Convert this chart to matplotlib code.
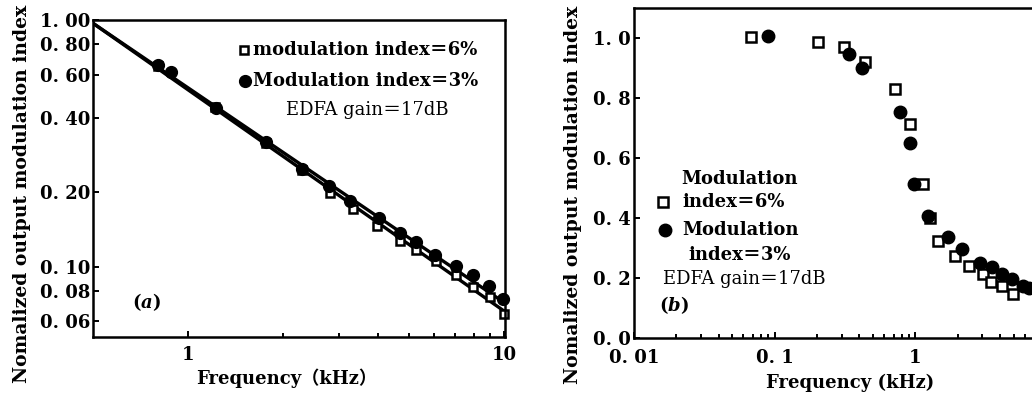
import matplotlib
matplotlib.use('Agg')
import matplotlib.pyplot as plt
import matplotlib.ticker as mticker
import numpy as np

# Panel (a): log-log, modulation index 6% (squares) and 3% (circles)
freqA_6 = [0.80, 1.22, 1.76, 2.30, 2.82, 3.33, 3.97, 4.68, 5.27, 6.10, 7.05, 7.99, 9.02, 10.0]
indexA_6 = [0.650, 0.445, 0.318, 0.246, 0.198, 0.171, 0.146, 0.127, 0.117, 0.105, 0.0925, 0.083, 0.0755, 0.064]
freqA_3 = [0.80, 0.88, 1.225, 1.76, 2.30, 2.78, 3.26, 4.02, 4.68, 5.25, 6.03, 7.01, 7.94, 8.97, 9.93]
indexA_3 = [0.657, 0.614, 0.439, 0.321, 0.250, 0.212, 0.185, 0.157, 0.137, 0.126, 0.111, 0.1007, 0.0925, 0.0835, 0.0738]
# fitted lines (end points)
fitA_freq = [0.5, 10.0]
fitA_6 = [0.97, 0.066]
fitA_3 = [0.97, 0.0715]

# Panel (b): semilog-x
freqB_6 = [0.068, 0.203, 0.31, 0.442, 0.721, 0.912, 1.13, 1.28, 1.46, 1.92, 2.39, 3.05, 3.44, 4.12, 4.93]
indexB_6 = [1.004, 0.986, 0.969, 0.919, 0.830, 0.714, 0.512, 0.400, 0.323, 0.273, 0.240, 0.213, 0.187, 0.172, 0.146]
freqB_3 = [0.090, 0.336, 0.419, 0.783, 0.912, 0.973, 1.24, 1.72, 2.14, 2.89, 3.50, 4.12, 4.85, 5.86, 6.47]
indexB_3 = [1.008, 0.947, 0.899, 0.752, 0.650, 0.512, 0.406, 0.337, 0.296, 0.251, 0.235, 0.213, 0.196, 0.174, 0.168]

yticksA = [0.06, 0.08, 0.10, 0.20, 0.40, 0.60, 0.80, 1.00]
ytickA_labels = ['0. 06', '0. 08', '0. 10', '0. 20', '0. 40', '0. 60', '0. 80', '1. 00']
yticksB = [0.0, 0.2, 0.4, 0.6, 0.8, 1.0]
ytickB_labels = ['0. 0', '0. 2', '0. 4', '0. 6', '0. 8', '1. 0']
xticksB = [0.01, 0.1, 1]
xtickB_labels = ['0. 01', '0. 1', '1']

plt.rcParams['font.family'] = ['DejaVu Serif', 'Noto Sans CJK SC']
plt.rcParams['font.weight'] = 'bold'
plt.rcParams['axes.labelweight'] = 'bold'
plt.rcParams['mathtext.fontset'] = 'custom'
plt.rcParams['mathtext.it'] = 'DejaVu Serif:italic:bold'
plt.rcParams['mathtext.rm'] = 'DejaVu Serif:bold'

fig = plt.figure(figsize=(10.32, 3.99), dpi=100)
axA = fig.add_axes([0.0901, 0.1561, 0.3992, 0.7938])
axB = fig.add_axes([0.6143, 0.1529, 0.4090, 0.8271])

for ax in (axA, axB):
    for s in ax.spines.values():
        s.set_linewidth(1.8)
    ax.tick_params(which='both', direction='in', width=1.4, labelsize=13)
    ax.tick_params(which='major', length=4)
    ax.tick_params(which='minor', length=3)

# ---- panel (a)
axA.set_xscale('log')
axA.set_yscale('log')
axA.plot(fitA_freq, fitA_6, color='black', lw=2.4)
axA.plot(fitA_freq, fitA_3, color='black', lw=2.4)
axA.plot(freqA_6, indexA_6, ls='none', marker='s', ms=6, mfc='white', mec='black', mew=1.8, clip_on=False)
axA.plot(freqA_3, indexA_3, ls='none', marker='o', ms=8.5, color='black', clip_on=False)
axA.set_xlim(0.5, 10.05)
axA.set_ylim(0.052, 1.0)
axA.yaxis.set_major_locator(mticker.FixedLocator(yticksA))
axA.yaxis.set_minor_locator(mticker.NullLocator())
axA.set_yticklabels(ytickA_labels)
axA.xaxis.set_major_locator(mticker.FixedLocator([1, 10]))
axA.xaxis.set_minor_locator(mticker.FixedLocator([2, 3, 4, 5, 6, 7, 8, 9]))
axA.xaxis.set_minor_formatter(mticker.NullFormatter())
axA.set_xticklabels(['1', '10'])
axA.tick_params(axis='x', pad=7)
axA.tick_params(axis='y', pad=2)
axA.set_xlabel('Frequency（kHz）', fontsize=13, va='center')
axA.xaxis.set_label_coords(0.471, -0.130)
axA.set_ylabel('Nomalized output modulation index', fontsize=13.5, va='center')
axA.yaxis.set_label_coords(-0.172, 0.452)

# legend (a)
axA.plot([0.367], [0.905], transform=axA.transAxes, marker='s', ms=6, mfc='white', mec='black', mew=1.8, clip_on=False)
axA.plot([0.369], [0.808], transform=axA.transAxes, marker='o', ms=8.5, color='black', clip_on=False)
axA.text(0.388, 0.905, 'modulation index＝6%', transform=axA.transAxes, fontsize=13, va='center', ha='left')
axA.text(0.388, 0.808, 'Modulation index＝3%', transform=axA.transAxes, fontsize=13, va='center', ha='left')
axA.text(0.666, 0.716, 'EDFA gain＝17dB', transform=axA.transAxes, fontsize=13, va='center', ha='center', fontweight='normal')
axA.text(0.129, 0.109, '($a$)', transform=axA.transAxes, fontsize=13, va='center', ha='center')

# ---- panel (b)
axB.set_xscale('log')
axB.plot(freqB_6, indexB_6, ls='none', marker='s', ms=6.5, mfc='white', mec='black', mew=1.8)
axB.plot(freqB_3, indexB_3, ls='none', marker='o', ms=9, color='black')
axB.set_xlim(0.01, 10)
axB.set_ylim(0.0, 1.1)
axB.set_yticks(yticksB)
axB.set_yticklabels(ytickB_labels)
axB.xaxis.set_major_locator(mticker.FixedLocator(xticksB))
axB.xaxis.set_minor_locator(mticker.LogLocator(base=10, subs=np.arange(2, 10)))
axB.xaxis.set_minor_formatter(mticker.NullFormatter())
axB.set_xticklabels(xtickB_labels)
axB.tick_params(axis='x', pad=8)
axB.tick_params(axis='y', pad=2)
axB.set_xlabel('Frequency (kHz)', fontsize=13, va='center')
axB.xaxis.set_label_coords(0.512, -0.136)
axB.set_ylabel('Nomalized output modulation index', fontsize=13.5, va='center')
axB.yaxis.set_label_coords(-0.1445, 0.433)

# legend (b)
axB.plot([0.069], [0.412], transform=axB.transAxes, marker='s', ms=6.5, mfc='white', mec='black', mew=1.8, clip_on=False)
axB.plot([0.073], [0.327], transform=axB.transAxes, marker='o', ms=9, color='black', clip_on=False)
axB.text(0.251, 0.482, 'Modulation', transform=axB.transAxes, fontsize=13, va='center', ha='center')
axB.text(0.114, 0.412, 'index＝6%', transform=axB.transAxes, fontsize=13, va='center', ha='left')
axB.text(0.114, 0.327, 'Modulation', transform=axB.transAxes, fontsize=13, va='center', ha='left')
axB.text(0.130, 0.252, 'index＝3%', transform=axB.transAxes, fontsize=13, va='center', ha='left')
axB.text(0.069, 0.179, 'EDFA gain＝17dB', transform=axB.transAxes, fontsize=13, va='center', ha='left', fontweight='normal')
axB.text(0.059, 0.100, '($b$)', transform=axB.transAxes, fontsize=13, va='center', ha='left')

fig.savefig('out.png', dpi=100)
